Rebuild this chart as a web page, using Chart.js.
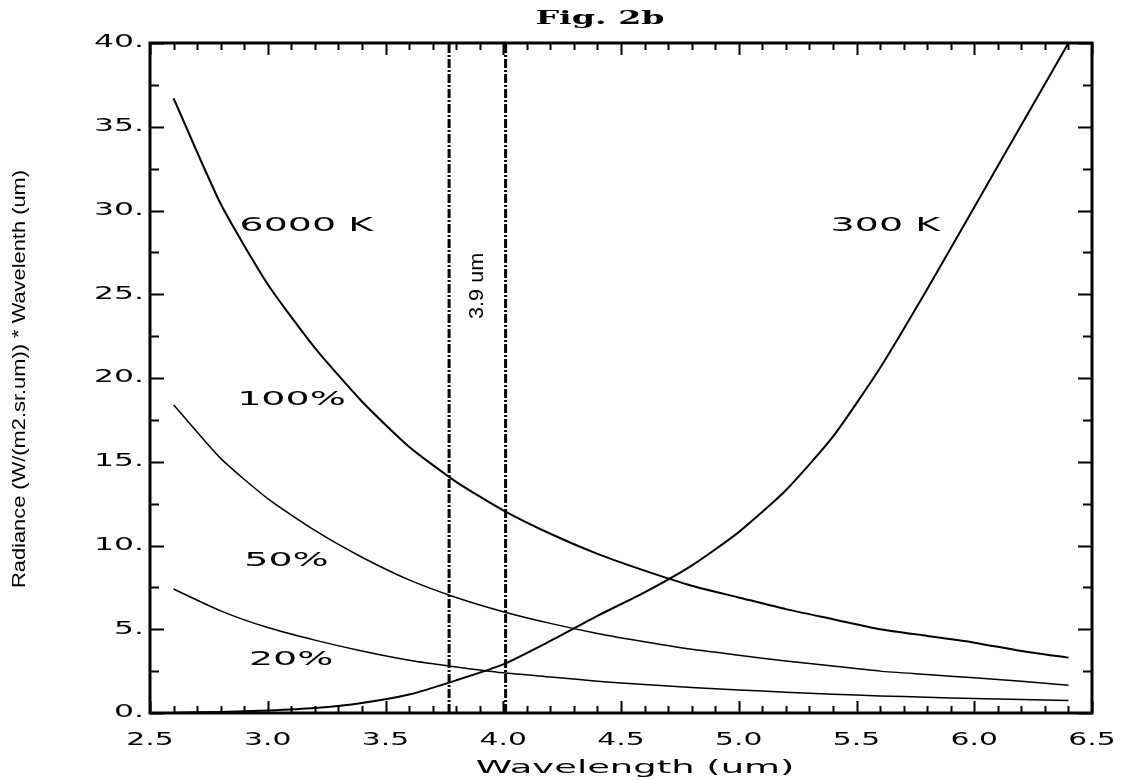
<!DOCTYPE html>
<html>
<head>
<meta charset="utf-8">
<title>Fig. 2b</title>
<script src="https://cdn.jsdelivr.net/npm/chart.js@4.4.1/dist/chart.umd.min.js"></script>
<style>
  html, body { margin: 0; padding: 0; background: #fff; }
  #wrap { width: 1135px; height: 780px; }
</style>
</head>
<body>
<div id="wrap"><canvas id="fig2b" width="1135" height="780"></canvas></div>
<script>
// comprimentos de onda (um)
const wavelengths = [2.6, 2.8, 3.0, 3.2, 3.4, 3.6, 3.8, 4.0, 4.2, 4.4, 4.6, 4.8, 5.0, 5.2, 5.4, 5.6, 5.8, 6.0, 6.2, 6.4];

// radiancia * comprimento de onda
const refl100 = [36.7, 30.4, 25.6, 21.8, 18.6, 15.9, 13.8, 12.1, 10.7, 9.5, 8.5, 7.6, 6.9, 6.2, 5.6, 5.0, 4.6, 4.2, 3.7, 3.3];
const refl50  = [18.4, 15.2, 12.8, 10.9, 9.3, 7.95, 6.9, 6.05, 5.35, 4.75, 4.25, 3.8, 3.45, 3.1, 2.8, 2.5, 2.3, 2.1, 1.9, 1.65];
const refl20  = [7.4, 6.1, 5.1, 4.35, 3.7, 3.15, 2.75, 2.4, 2.15, 1.9, 1.7, 1.52, 1.38, 1.24, 1.12, 1.02, 0.94, 0.86, 0.8, 0.74];
const temp300 = [0.02, 0.06, 0.15, 0.3, 0.6, 1.1, 1.95, 2.9, 4.3, 5.8, 7.2, 8.8, 10.8, 13.3, 16.5, 20.6, 25.3, 30.2, 35.1, 40.0];

// banda de 3.9 um
const bandEdges = [3.77, 4.01];

// rotulos dos eixos
const xTickLabels = ['2.5', '3.0', '3.5', '4.0', '4.5', '5.0', '5.5', '6.0', '6.5'];
const yTickLabels = ['0.', '5.', '10.', '15.', '20.', '25.', '30.', '35.', '40.'];

// textos dentro do grafico (posicao em unidades dos eixos)
const curveLabels = [
    { text: '6000 K', x: 2.88, y: 29.1 },
    { text: '100%',   x: 2.87, y: 18.7 },
    { text: '50%',    x: 2.90, y: 9.1 },
    { text: '20%',    x: 2.92, y: 3.15 },
    { text: '300 K',  x: 5.39, y: 29.1 }
];

function toPoints(ys) {
    return wavelengths.map((w, i) => ({ x: w, y: ys[i] }));
}

function curve(ys, width) {
    return {
        data: toPoints(ys),
        borderColor: '#000',
        borderWidth: width,
        pointRadius: 0,
        tension: 0.2,
        fill: false
    };
}

function bandLine(x) {
    return {
        data: [{ x: x, y: 0 }, { x: x, y: 40 }],
        borderColor: '#000',
        borderWidth: 3,
        borderDash: [9, 2, 2, 2],
        pointRadius: 0,
        fill: false
    };
}

// texto esticado na horizontal (a fonte original e bem larga)
function wideText(ctx, txt, x, y, font, sx, align, rot) {
    ctx.save();
    ctx.translate(x, y);
    if (rot) ctx.rotate(rot);
    ctx.scale(sx, 1);
    ctx.font = font;
    ctx.fillStyle = '#000';
    ctx.textAlign = align;
    ctx.textBaseline = 'middle';
    ctx.fillText(txt, 0, 0);
    ctx.restore();
}

const frameAndText = {
    id: 'frameAndText',
    afterDraw(chart) {
        const ctx = chart.ctx;
        const a = chart.chartArea;
        const xs = chart.scales.x;
        const ys = chart.scales.y;

        // moldura
        ctx.save();
        ctx.strokeStyle = '#000';
        ctx.lineWidth = 3;
        ctx.strokeRect(a.left, a.top, a.right - a.left, a.bottom - a.top);

        // marcas para dentro, nos quatro lados
        ctx.lineWidth = 2;
        ctx.beginPath();
        for (let i = 0; i <= 40; i++) {
            const px = Math.round(xs.getPixelForValue(2.5 + i * 0.1)) + 0.5;
            const len = i % 5 === 0 ? 12 : 7;
            ctx.moveTo(px, a.bottom); ctx.lineTo(px, a.bottom - len);
            ctx.moveTo(px, a.top); ctx.lineTo(px, a.top + len);
        }
        for (let i = 0; i <= 16; i++) {
            const py = Math.round(ys.getPixelForValue(i * 2.5)) + 0.5;
            const len = i % 2 === 0 ? 14 : 9;
            ctx.moveTo(a.left, py); ctx.lineTo(a.left + len, py);
            ctx.moveTo(a.right, py); ctx.lineTo(a.right - len, py);
        }
        ctx.stroke();
        ctx.restore();

        const tickFont = '17px "DejaVu Sans"';
        xs.ticks.forEach((t, i) => {
            wideText(ctx, xTickLabels[i], xs.getPixelForValue(t.value), 741, tickFont, 1.75, 'center');
        });
        ys.ticks.forEach((t, i) => {
            wideText(ctx, yTickLabels[i], 144, ys.getPixelForValue(t.value), tickFont, 1.85, 'right');
        });

        // titulos
        wideText(ctx, 'Fig. 2b', 600, 19, 'bold 18px "DejaVu Serif"', 1.85, 'center');
        wideText(ctx, 'Wavelength (um)', 635, 768, '18px "DejaVu Sans"', 2.05, 'center');
        wideText(ctx, 'Radiance (W/(m2.sr.um)) * Wavelenth (um)', 20, 379,
            '19px "Liberation Sans"', 1.15, 'center', -Math.PI / 2);

        curveLabels.forEach(l => {
            wideText(ctx, l.text, xs.getPixelForValue(l.x), ys.getPixelForValue(l.y),
                '20px "DejaVu Sans"', 1.9, 'left');
        });

        const bandMid = (bandEdges[0] + bandEdges[1]) / 2;
        wideText(ctx, '3.9 um', xs.getPixelForValue(bandMid), ys.getPixelForValue(25.5),
            '20px "Liberation Sans"', 1.08, 'center', -Math.PI / 2);
    }
};

new Chart(document.getElementById('fig2b').getContext('2d'), {
    type: 'line',
    data: {
        datasets: [
            curve(refl100, 2),
            curve(refl50, 1.5),
            curve(refl20, 1.5),
            curve(temp300, 2),
            bandLine(bandEdges[0]),
            bandLine(bandEdges[1])
        ]
    },
    options: {
        responsive: false,
        animation: false,
        devicePixelRatio: 1,
        layout: { padding: { top: 43, right: 43, left: 0, bottom: 0 } },
        plugins: {
            legend: { display: false },
            tooltip: { enabled: false }
        },
        scales: {
            x: {
                type: 'linear',
                min: 2.5,
                max: 6.5,
                ticks: { display: false, stepSize: 0.5 },
                grid: { display: false },
                border: { display: false },
                afterFit: s => { s.height = 67; }
            },
            y: {
                min: 0,
                max: 40,
                ticks: { display: false, stepSize: 5 },
                grid: { display: false },
                border: { display: false },
                afterFit: s => { s.width = 150; }
            }
        }
    },
    plugins: [frameAndText]
});
</script>
</body>
</html>
